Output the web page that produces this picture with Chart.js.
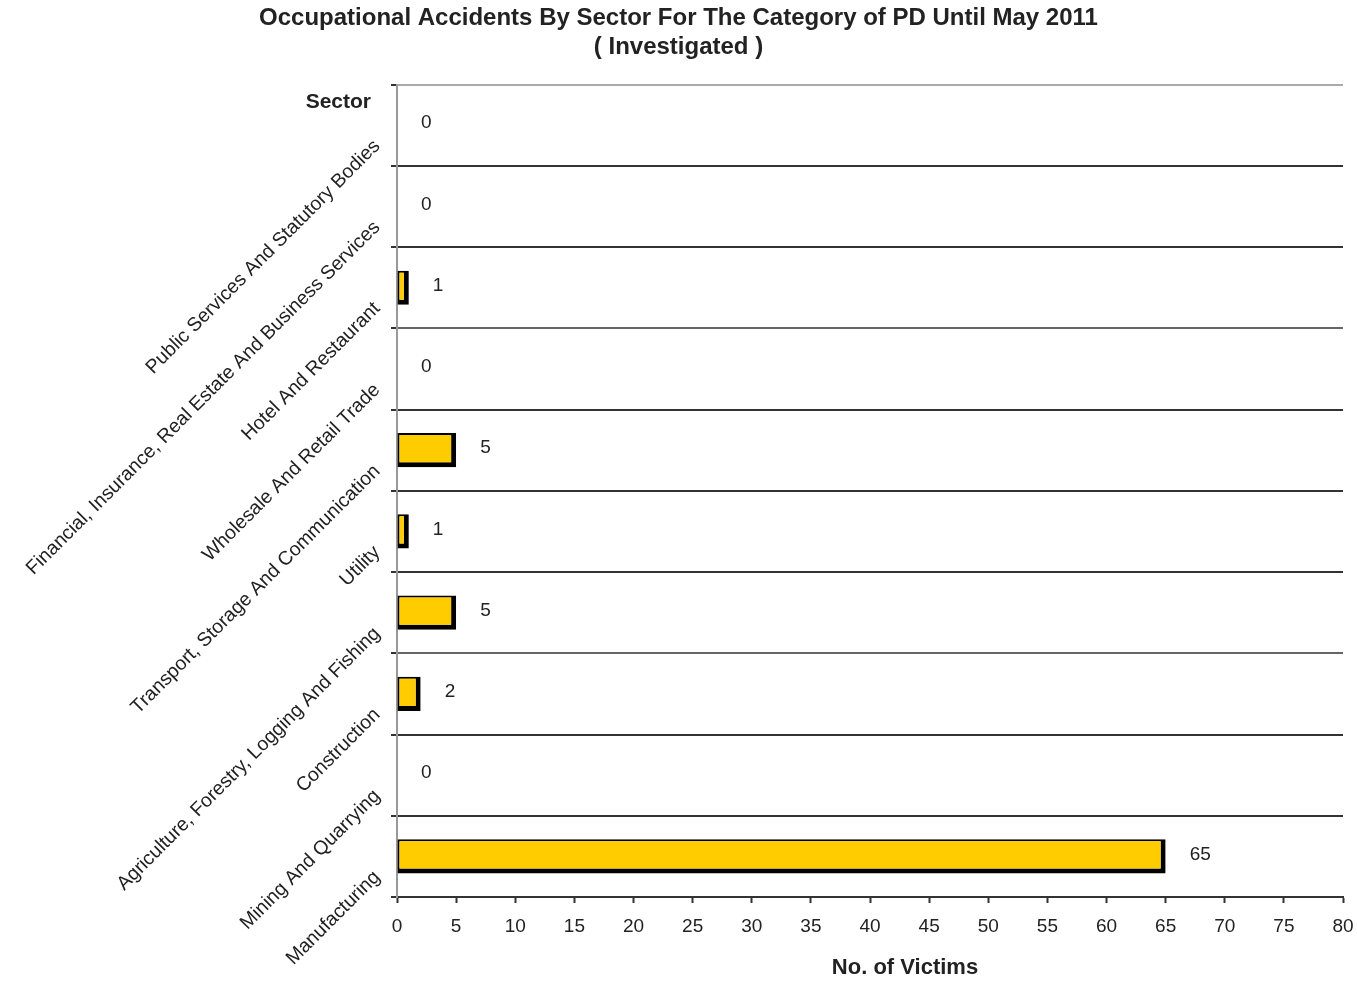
<!DOCTYPE html>
<html>
<head>
<meta charset="utf-8">
<title>Occupational Accidents By Sector</title>
<script src="https://cdn.jsdelivr.net/npm/chart.js@4.4.1/dist/chart.umd.min.js"></script>
<style>
  html, body { margin: 0; padding: 0; background: #fff; }
  #wrap { width: 1357px; height: 982px; position: relative; }
</style>
</head>
<body>
<div id="wrap"><canvas id="sectorChart"></canvas></div>
<script>
const sectors = [
  'Public Services And Statutory Bodies',
  'Financial, Insurance, Real Estate And Business Services',
  'Hotel And Restaurant',
  'Wholesale And Retail Trade',
  'Transport, Storage And Communication',
  'Utility',
  'Agriculture, Forestry, Logging And Fishing',
  'Construction',
  'Mining And Quarrying',
  'Manufacturing'
];
const victims = [0, 0, 1, 0, 5, 1, 5, 2, 0, 65];
const xTicks = [0, 5, 10, 15, 20, 25, 30, 35, 40, 45, 50, 55, 60, 65, 70, 75, 80];

const titleLines = ['Occupational Accidents By Sector For The Category of PD Until May 2011', '( Investigated )'];
const xTitle = 'No. of Victims';
const yTitle = 'Sector';

const FONT = "'Liberation Sans', Arial, sans-serif";
const INK = '#222';

// valores ao lado de cada barra + titulos dos eixos
const labelPlugin = {
  id: 'valueLabels',
  afterDatasetsDraw(chart) {
    const ctx = chart.ctx;
    const meta = chart.getDatasetMeta(0);
    ctx.save();
    ctx.fillStyle = INK;
    ctx.font = '19px ' + FONT;
    ctx.textAlign = 'left';
    ctx.textBaseline = 'middle';
    meta.data.forEach((bar, i) => {
      ctx.fillText(String(victims[i]), bar.x + 24, bar.y - 2);
    });
    const area = chart.chartArea;
    ctx.font = 'bold 21px ' + FONT;
    ctx.textAlign = 'right';
    ctx.fillText(yTitle, area.left - 26, area.top + 18);

    ctx.font = 'bold 22px ' + FONT;
    ctx.textAlign = 'center';
    ctx.fillText(xTitle, (area.left + area.right) / 2 + 35, chart.height - 14);
    ctx.restore();
  }
};

const ctx = document.getElementById('sectorChart').getContext('2d');
const sectorChart = new Chart(ctx, {
  type: 'bar',
  data: {
    labels: sectors,
    datasets: [{
      data: victims,
      backgroundColor: '#FFCC00',
      borderColor: '#000',
      borderWidth: { top: 2, left: 2, right: 5, bottom: 5 },
      borderSkipped: false,
      barPercentage: 0.42,
      categoryPercentage: 1
    }]
  },
  options: {
    indexAxis: 'y',
    responsive: true,
    maintainAspectRatio: false,
    animation: false,
    layout: { padding: 0 },
    plugins: {
      legend: { display: false },
      tooltip: { enabled: false },
      title: {
        display: true,
        text: titleLines,
        color: INK,
        font: { family: FONT, size: 24, weight: 'bold', lineHeight: 1.2 },
        padding: { top: 4, bottom: 23 }
      }
    },
    scales: {
      x: {
        min: 0,
        max: 80,
        afterBuildTicks: scale => { scale.ticks = xTicks.map(v => ({ value: v })); },
        afterFit: scale => { scale.height = 85; scale.paddingRight = 14; },
        grid: {
          drawOnChartArea: false,
          drawTicks: true,
          tickLength: 6,
          tickColor: '#333',
          tickWidth: 2
        },
        border: { display: true, color: '#333', width: 2 },
        ticks: {
          color: INK,
          font: { family: FONT, size: 19 },
          padding: 12,
          maxRotation: 0,
          autoSkip: false
        }
      },
      y: {
        afterFit: scale => { scale.width = 397; },
        grid: {
          offset: true,
          drawTicks: true,
          tickLength: 6,
          color: c => (c.index === 0 ? '#aaa' : (c.index === 3 || c.index === 7 ? '#666' : '#333')),
          lineWidth: 2,
          tickColor: '#333',
          tickWidth: 2
        },
        border: { display: true, color: '#999', width: 2 },
        ticks: {
          color: INK,
          font: { family: FONT, size: 19.5 },
          minRotation: 45,
          maxRotation: 45,
          padding: 14,
          labelOffset: 18,
          autoSkip: false
        }
      }
    }
  },
  plugins: [labelPlugin]
});
</script>
</body>
</html>
